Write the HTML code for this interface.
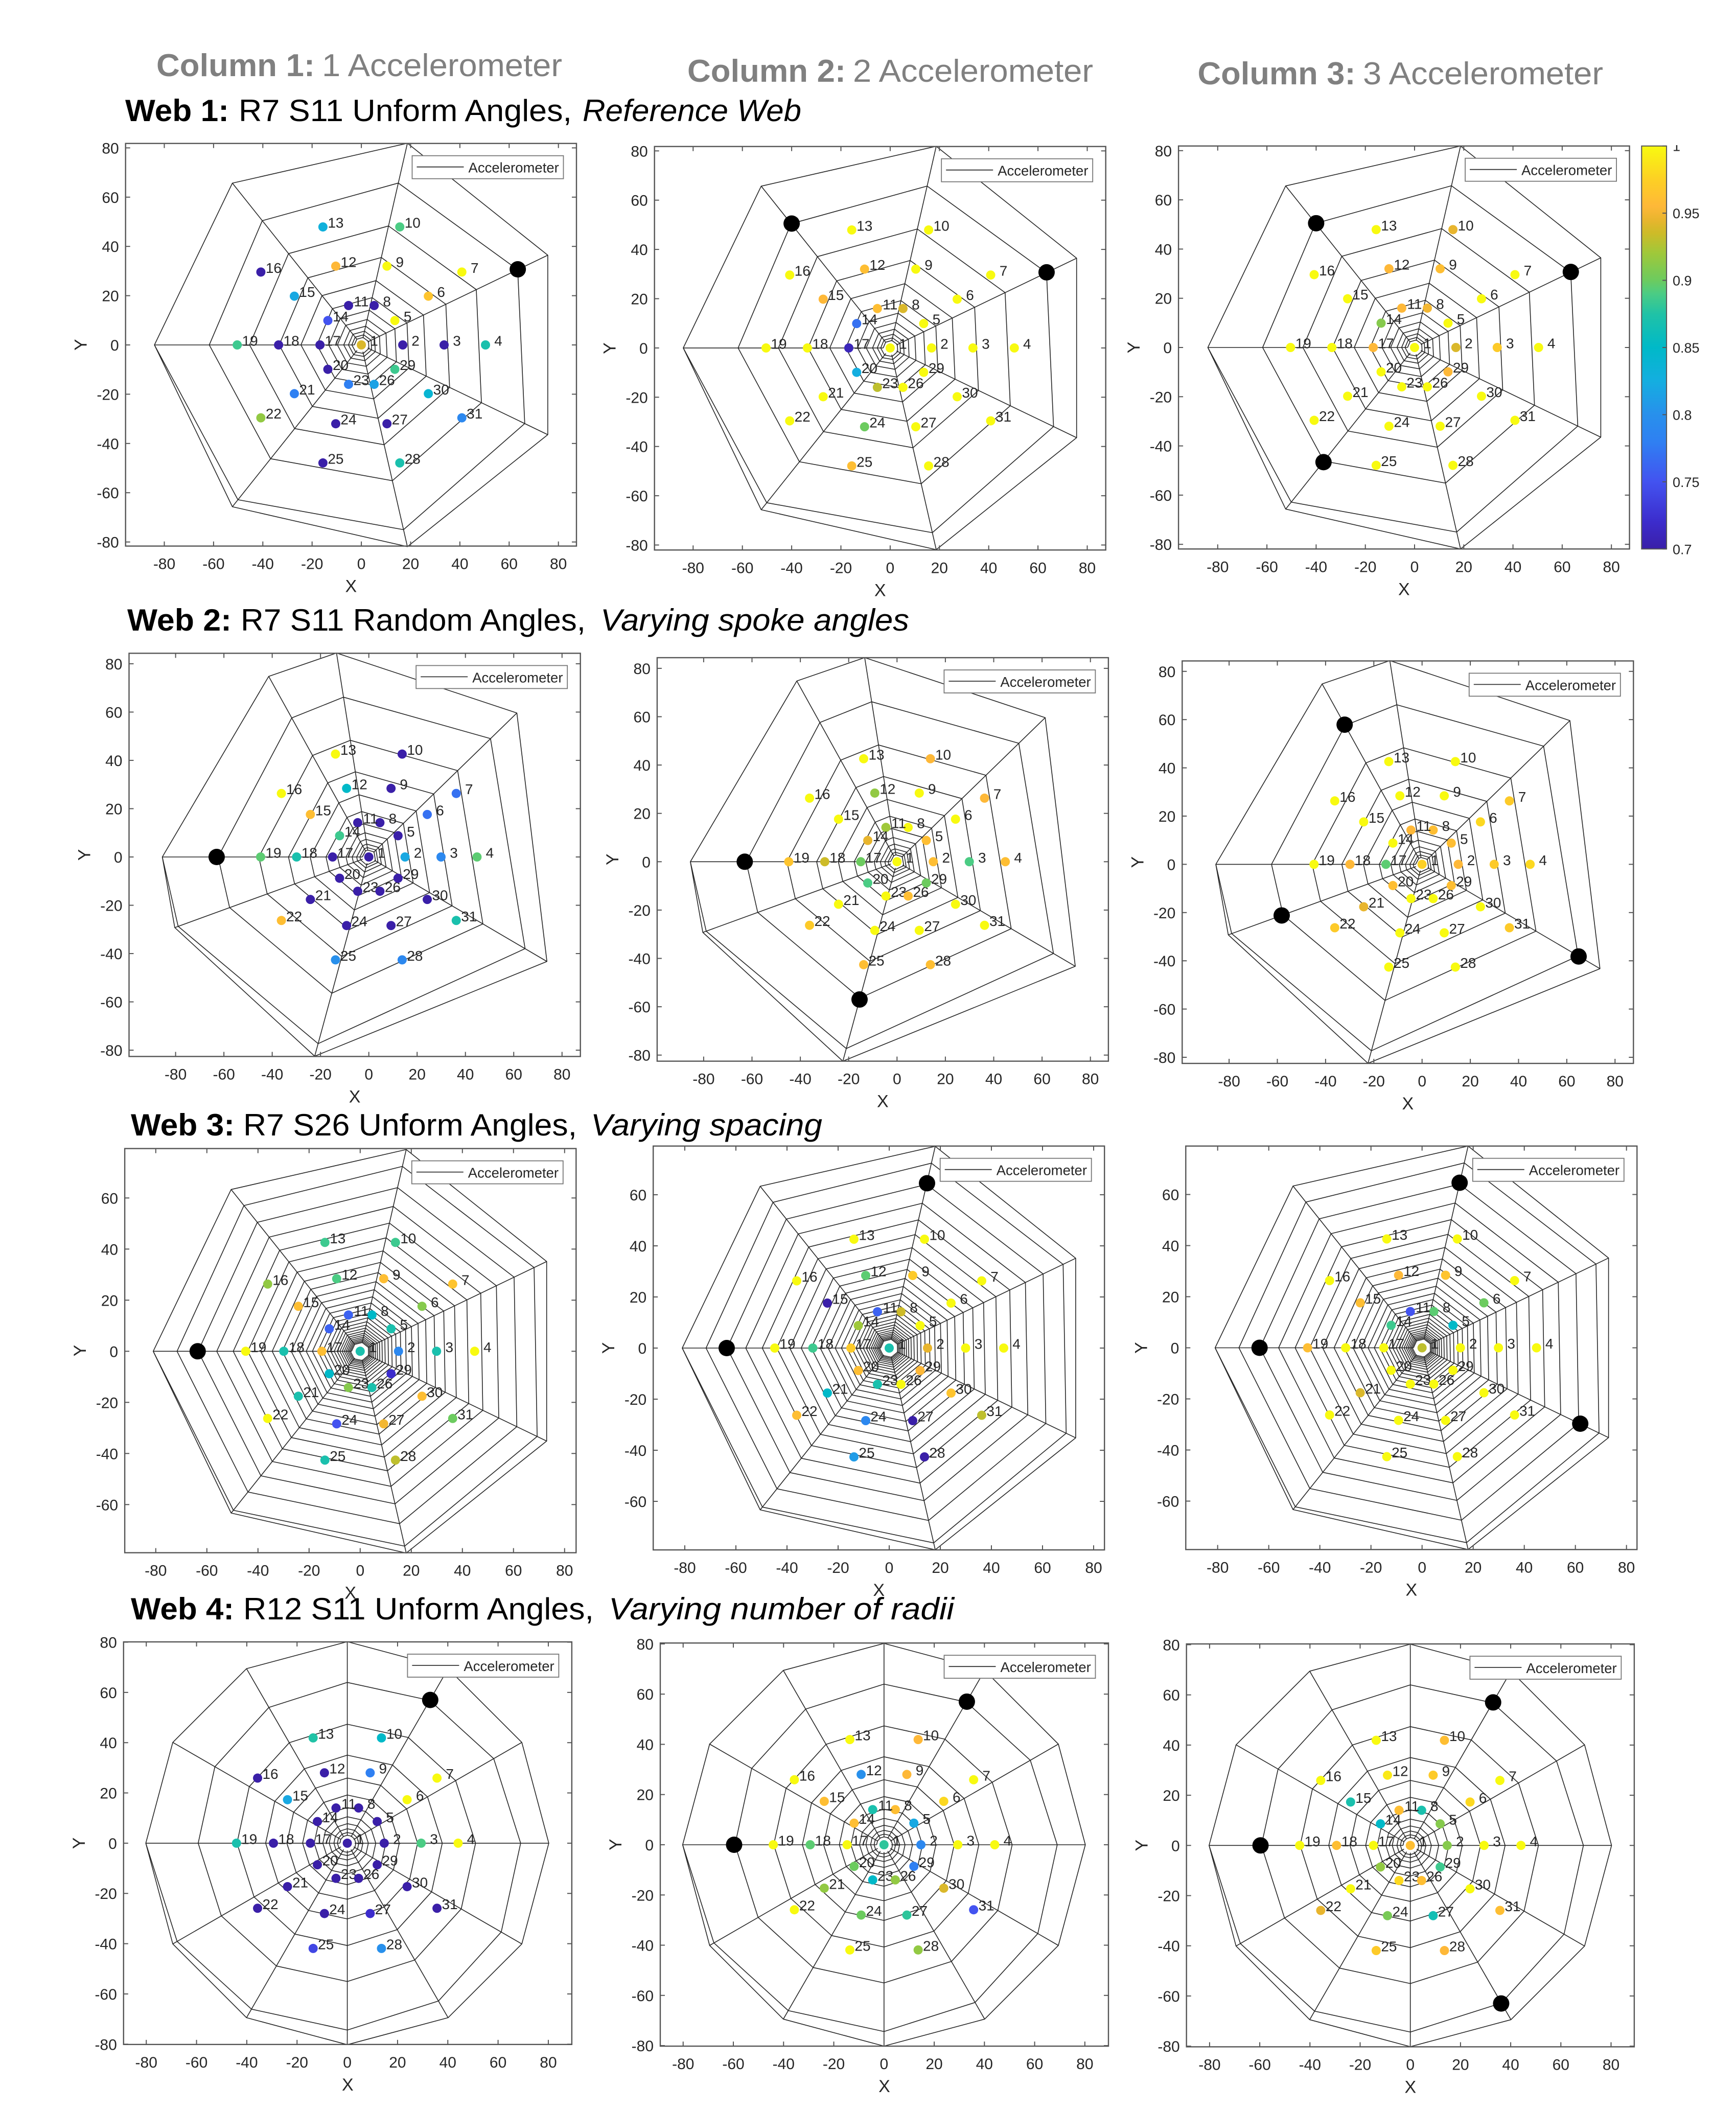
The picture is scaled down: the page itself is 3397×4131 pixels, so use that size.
<!DOCTYPE html>
<html lang="en">
<head>
<meta charset="utf-8">
<title>Spider web accelerometer study</title>
<style>
html,body{margin:0;padding:0;background:#fff;}
#page{display:block;width:3397px;height:4131px;}
text{font-family:"Liberation Sans",sans-serif;}
</style>
</head>
<body>
<svg id="page" xmlns="http://www.w3.org/2000/svg" width="3397" height="4131" viewBox="0 0 3397 4131">
<rect x="0" y="0" width="3397" height="4131" fill="#ffffff"/>
<defs>
<linearGradient id="cbar" x1="0" y1="1" x2="0" y2="0"></linearGradient>
<clipPath id="cbarTopClip"><rect x="3260" y="284" width="60" height="30"/></clipPath>
</defs>
<g id="plots"></g>
<g id="titles">
<g font-size="62" fill="#808080">
<text x="306" y="149" font-weight="700" textLength="310" lengthAdjust="spacingAndGlyphs">Column 1:</text>
<text x="630" y="149" textLength="470" lengthAdjust="spacingAndGlyphs">1 Accelerometer</text>
</g>
<g font-size="62" fill="#808080">
<text x="1345" y="160" font-weight="700" textLength="310" lengthAdjust="spacingAndGlyphs">Column 2:</text>
<text x="1669" y="160" textLength="470" lengthAdjust="spacingAndGlyphs">2 Accelerometer</text>
</g>
<g font-size="62" fill="#808080">
<text x="2343.5" y="165" font-weight="700" textLength="309" lengthAdjust="spacingAndGlyphs">Column 3:</text>
<text x="2667" y="165" textLength="470" lengthAdjust="spacingAndGlyphs">3 Accelerometer</text>
</g>
<g font-size="60" fill="#000">
<text x="245" y="237" font-weight="700" textLength="203" lengthAdjust="spacingAndGlyphs">Web 1:</text>
<text x="467" y="237" textLength="652" lengthAdjust="spacingAndGlyphs">R7 S11 Unform Angles,</text>
<text x="1140" y="237" font-style="italic" textLength="428" lengthAdjust="spacingAndGlyphs">Reference Web</text>
</g>
<g font-size="60" fill="#000">
<text x="249" y="1234" font-weight="700" textLength="204" lengthAdjust="spacingAndGlyphs">Web 2:</text>
<text x="471" y="1234" textLength="675" lengthAdjust="spacingAndGlyphs">R7 S11 Random Angles,</text>
<text x="1175" y="1234" font-style="italic" textLength="604" lengthAdjust="spacingAndGlyphs">Varying spoke angles</text>
</g>
<g font-size="60" fill="#000">
<text x="256" y="2222" font-weight="700" textLength="203" lengthAdjust="spacingAndGlyphs">Web 3:</text>
<text x="476" y="2222" textLength="653" lengthAdjust="spacingAndGlyphs">R7 S26 Unform Angles,</text>
<text x="1156" y="2222" font-style="italic" textLength="453" lengthAdjust="spacingAndGlyphs">Varying spacing</text>
</g>
<g font-size="60" fill="#000">
<text x="256" y="3169" font-weight="700" textLength="202" lengthAdjust="spacingAndGlyphs">Web 4:</text>
<text x="476" y="3169" textLength="686" lengthAdjust="spacingAndGlyphs">R12 S11 Unform Angles,</text>
<text x="1191" y="3169" font-style="italic" textLength="676" lengthAdjust="spacingAndGlyphs">Varying number of radii</text>
</g>
</g>
</svg>
<script>
// ---- tick labels
const xTickLabels = [-80,-60,-40,-20,0,20,40,60,80];
const yTickLabelsFull = [-80,-60,-40,-20,0,20,40,60,80];
const yTickLabelsShort = [-60,-40,-20,0,20,40,60];
const colorbarTickValues = [0.7,0.75,0.8,0.85,0.9,0.95,1];
const colorbarTickLabels = ['0.7','0.75','0.8','0.85','0.9','0.95','1'];

// ---- colormap
const cmapValues = [0.70,0.72,0.75,0.78,0.80,0.825,0.85,0.875,0.89,0.90,0.92,0.935,0.945,0.955,0.975,1];
const cmapColors = ['#3a1fa8','#3c2ccc','#4353f0','#2f80f2','#2890ec','#14aee0','#00b9c8','#20c2a6','#4bcc84','#6ccb5f','#9fc83a','#cdbb28','#e8b52e','#feb838','#fdd024','#f8fa10'];

// ---- web structure (spoke angles in degrees, spiral start radius, shrink per turn, turns)
const web1Angles = [180,231.43,282.86,334.29,385.71,437.14,488.57];
const web2Angles = [180,200,254.8,329.6,404.2,459,479];
const web3Angles = [180,231.43,282.86,334.29,385.71,437.14,488.57];
const web4Angles = [180,210,240,270,300,330,360,390,420,450,480,510];
const webRadius = [84,85.5,81,80.2];
const webShrink = [0.735,0.73,0.885,0.74];
const webTurns = [11,11,26,11];

// ---- sensor positions
const web1SensorX = [0,16.8,33.6,50.4,13.6,27.2,40.8,5.2,10.4,15.6,-5.2,-10.4,-15.6,-13.6,-27.2,-40.8,-16.8,-33.6,-50.4,-13.6,-27.2,-40.8,-5.2,-10.4,-15.6,5.2,10.4,15.6,13.6,27.2,40.8];
const web1SensorY = [0,0,0,0,9.9,19.8,29.6,16,32,47.9,16,32,47.9,9.9,19.8,29.6,0,0,0,-9.9,-19.8,-29.6,-16,-32,-47.9,-16,-32,-47.9,-9.9,-19.8,-29.6];
const web2SensorX = [0,15,29.9,44.8,12.1,24.2,36.2,4.6,9.2,13.8,-4.6,-9.2,-13.8,-12.1,-24.2,-36.2,-15,-29.9,-44.8,-12.1,-24.2,-36.2,-4.6,-9.2,-13.8,4.6,9.2,13.8,12.1,24.2,36.2];
const web2SensorY = [0,0,0,0,8.8,17.6,26.3,14.2,28.4,42.6,14.2,28.4,42.6,8.8,17.6,26.3,0,0,0,-8.8,-17.6,-26.3,-14.2,-28.4,-42.6,-14.2,-28.4,-42.6,-8.8,-17.6,-26.3];
const web3SensorX = [0,15,29.9,44.8,12.1,24.2,36.2,4.6,9.2,13.8,-4.6,-9.2,-13.8,-12.1,-24.2,-36.2,-15,-29.9,-44.8,-12.1,-24.2,-36.2,-4.6,-9.2,-13.8,4.6,9.2,13.8,12.1,24.2,36.2];
const web3SensorY = [0,0,0,0,8.8,17.6,26.3,14.2,28.4,42.6,14.2,28.4,42.6,8.8,17.6,26.3,0,0,0,-8.8,-17.6,-26.3,-14.2,-28.4,-42.6,-14.2,-28.4,-42.6,-8.8,-17.6,-26.3];
const web4SensorX = [0,14.7,29.4,44.1,11.9,23.8,35.7,4.5,9.1,13.6,-4.5,-9.1,-13.6,-11.9,-23.8,-35.7,-14.7,-29.4,-44.1,-11.9,-23.8,-35.7,-4.5,-9.1,-13.6,4.5,9.1,13.6,11.9,23.8,35.7];
const web4SensorY = [0,0,0,0,8.6,17.3,25.9,14,28,41.9,14,28,41.9,8.6,17.3,25.9,0,0,0,-8.6,-17.3,-25.9,-14,-28,-41.9,-14,-28,-41.9,-8.6,-17.3,-25.9];

// ---- sensor values, one array per panel
const valuesWeb1Col1 = [.94,.7,.7,.87,1,.965,1,.7,1,.89,.7,.955,.83,.75,.82,.7,.7,.7,.885,.7,.78,.915,.78,.7,.7,.815,.7,.87,.885,.84,.79];
const valuesWeb1Col2 = [1,1,1,1,1,1,1,.94,1,1,.96,.96,1,.77,.955,1,.71,1,1,.825,1,1,.93,.9,.96,1,1,1,1,1,1];
const valuesWeb1Col3 = [1,.94,.97,1,1,1,1,.95,.96,.945,.955,.955,1,.91,1,1,.955,1,1,1,1,1,1,1,1,1,1,1,.955,1,1];
const valuesWeb2Col1 = [.7,.82,.79,.895,.7,.77,.77,.7,.7,.7,.7,.85,1,.885,.96,1,.7,.87,.895,.7,.7,.96,.7,.7,.8,.7,.7,.79,.7,.7,.87];
const valuesWeb2Col2 = [1,.96,.89,.96,.96,1,.955,1,1,.955,.92,.915,1,.945,1,1,.9,.935,.965,.89,1,.97,1,1,.96,.96,1,.96,.9,1,1];
const valuesWeb2Col3 = [.975,.955,.97,.98,.96,.98,.97,.96,1,1,.955,1,1,1,1,1,.895,.955,1,.96,.945,.97,1,1,1,1,1,1,.96,1,.97];
const valuesWeb3Col1 = [.87,.79,.87,1,.87,.91,.965,.85,.96,.885,.76,.89,.885,.76,.96,.915,.96,.87,1,.85,.87,1,.91,.75,.87,.87,.95,.93,.72,.96,.9];
const valuesWeb3Col2 = [.87,.945,1,1,1,1,1,.935,.97,1,.76,.895,1,.92,.7,1,.97,.885,1,.96,.85,.96,.87,.79,.81,1,.7,.7,.955,.965,.93];
const valuesWeb3Col3 = [.93,1,1,1,.85,.9,1,.895,.965,1,.75,.955,1,.885,.96,1,1,1,.96,1,.94,1,1,1,1,1,1,1,1,1,1];
const valuesWeb4Col1 = [.7,.7,.89,1,.7,1,1,.7,.78,.85,.7,.7,.875,.7,.82,.7,.7,.7,.87,.7,.7,.7,.7,.7,.74,.7,.72,.8,.7,.7,.7];
const valuesWeb4Col2 = [.88,.79,1,1,.82,.98,1,.96,.955,.955,.87,.8,1,.96,.96,1,1,.895,1,.9,.915,1,.85,.9,1,.915,.88,.915,.78,.94,.75];
const valuesWeb4Col3 = [.96,.91,1,1,.91,.98,1,.87,.97,.96,.96,.99,1,.85,.87,1,1,.96,1,.915,1,.945,.98,.905,.97,.96,.865,.955,.885,1,.96];

// ---- accelerometer positions, per panel
const accelWeb1Col1X = [63.5];
const accelWeb1Col1Y = [30.7];
const accelWeb1Col2X = [-40,63.5];
const accelWeb1Col2Y = [50.5,30.7];
const accelWeb1Col3X = [-40,63.5,-37];
const accelWeb1Col3Y = [50.5,30.7,-46.6];
const accelWeb2Col1X = [-63];
const accelWeb2Col1Y = [0];
const accelWeb2Col2X = [-63,-15.5];
const accelWeb2Col2Y = [0,-57];
const accelWeb2Col3X = [-58.2,-32.1,64.9];
const accelWeb2Col3Y = [-21.2,57.9,-38.2];
const accelWeb3Col1X = [-63.6];
const accelWeb3Col1Y = [0];
const accelWeb3Col2X = [-63.6,14.8];
const accelWeb3Col2Y = [0,64.5];
const accelWeb3Col3X = [-63.6,14.7,61.9];
const accelWeb3Col3Y = [0,64.6,-29.7];
const accelWeb4Col1X = [33];
const accelWeb4Col1Y = [57];
const accelWeb4Col2X = [-59.7,33];
const accelWeb4Col2Y = [0,57];
const accelWeb4Col3X = [-59.7,33,36.2];
const accelWeb4Col3Y = [0,57,-63];

// ---- panel frames (axes box in page pixels, origin pixel, pixels per data unit)
const panels = [
 {w:0,l:245.7,t:280.7,r:1128,b:1068.6,cx:707.1,cy:675,k:4.82,val:valuesWeb1Col1,ax:accelWeb1Col1X,ay:accelWeb1Col1Y},
 {w:0,l:1280.7,t:286.7,r:2163.7,b:1076.3,cx:1741.9,cy:680.9,k:4.82,val:valuesWeb1Col2,ax:accelWeb1Col2X,ay:accelWeb1Col2Y},
 {w:0,l:2306.1,t:285.7,r:3188.6,b:1074.3,cx:2768,cy:680,k:4.815,val:valuesWeb1Col3,ax:accelWeb1Col3X,ay:accelWeb1Col3Y},
 {w:1,l:252.5,t:1278.4,r:1135.7,b:2067.4,cx:721.7,cy:1677,k:4.726,val:valuesWeb2Col1,ax:accelWeb2Col1X,ay:accelWeb2Col1Y},
 {w:1,l:1285.9,t:1287,r:2168.9,b:2076.6,cx:1755.3,cy:1686.3,k:4.73,val:valuesWeb2Col2,ax:accelWeb2Col2X,ay:accelWeb2Col2Y},
 {w:1,l:2313.3,t:1293.4,r:3196.3,b:2081,cx:2782.7,cy:1691.4,k:4.72,val:valuesWeb2Col3,ax:accelWeb2Col3X,ay:accelWeb2Col3Y},
 {w:2,l:244.1,t:2247.6,r:1127.3,b:3038.5,cx:704.8,cy:2644.3,k:5.0,val:valuesWeb3Col1,ax:accelWeb3Col1X,ay:accelWeb3Col1Y},
 {w:2,l:1278.2,t:2242.7,r:2161.2,b:3033,cx:1740,cy:2638,k:5.0,val:valuesWeb3Col2,ax:accelWeb3Col2X,ay:accelWeb3Col2Y},
 {w:2,l:2320.3,t:2242.7,r:3203.3,b:3032.3,cx:2782.7,cy:2637.5,k:5.0,val:valuesWeb3Col3,ax:accelWeb3Col3X,ay:accelWeb3Col3Y},
 {w:3,l:241.8,t:3213,r:1118.9,b:4000.8,cx:679.6,cy:3606.9,k:4.917,val:valuesWeb4Col1,ax:accelWeb4Col1X,ay:accelWeb4Col1Y},
 {w:3,l:1292,t:3215.2,r:2169,b:4004.1,cx:1729.8,cy:3610,k:4.913,val:valuesWeb4Col2,ax:accelWeb4Col2X,ay:accelWeb4Col2Y},
 {w:3,l:2321.7,t:3217,r:3197.9,b:4005.4,cx:2759.7,cy:3611.3,k:4.91,val:valuesWeb4Col3,ax:accelWeb4Col3X,ay:accelWeb4Col3Y}
];
const webAngleSets = [web1Angles,web2Angles,web3Angles,web4Angles];
const webSensorXSets = [web1SensorX,web2SensorX,web3SensorX,web4SensorX];
const webSensorYSets = [web1SensorY,web2SensorY,web3SensorY,web4SensorY];

const NS = 'http://www.w3.org/2000/svg';
const plotsRoot = document.getElementById('plots');
function mk(parent, tag, attrs, txt){
  const n = document.createElementNS(NS, tag);
  for (const a in attrs) n.setAttribute(a, attrs[a]);
  if (txt !== undefined) n.textContent = txt;
  parent.appendChild(n);
  return n;
}
function hexToRgb(h){ return [parseInt(h.slice(1,3),16),parseInt(h.slice(3,5),16),parseInt(h.slice(5,7),16)]; }
function colorFor(v){
  if (v <= cmapValues[0]) return cmapColors[0];
  for (let i = 1; i < cmapValues.length; i++){
    if (v <= cmapValues[i]){
      const t = (v - cmapValues[i-1]) / (cmapValues[i] - cmapValues[i-1]);
      const a = hexToRgb(cmapColors[i-1]), b = hexToRgb(cmapColors[i]);
      return 'rgb(' + a.map((c,j) => Math.round(c + (b[j]-c)*t)).join(',') + ')';
    }
  }
  return cmapColors[cmapColors.length-1];
}

const TEXT = '#262626', AXIS = '#555555', WEB = '#262626';

panels.forEach(function(p){
  const sx = v => p.cx + v * p.k;
  const sy = v => p.cy - v * p.k;
  const g = mk(plotsRoot, 'g', {});
  
  

  // white plot area
  const area = mk(g, 'rect', {x:p.l,y:p.t,width:p.r-p.l,height:p.b-p.t,fill:'#fff'});
  
  

  // web geometry
  const angles = webAngleSets[p.w];
  const R = webRadius[p.w], f = webShrink[p.w], turns = webTurns[p.w];
  const rad = d => d * Math.PI / 180;
  const hub = R * Math.pow(f, turns);
  const px = (r, a) => sx(r * Math.cos(rad(a))).toFixed(1);
  const py = (r, a) => sy(r * Math.sin(rad(a))).toFixed(1);

  // outer frame
  let d = '';
  angles.forEach(function(a, i){ d += (i ? 'L' : 'M') + px(R, a) + ' ' + py(R, a); });
  d += 'Z';
  const frame = mk(g, 'path', {d:d,fill:'none',stroke:WEB,'stroke-width':1.6,'stroke-linejoin':'round'});
  
  

  // spokes
  angles.forEach(function(a){
    const s = mk(g, 'line', {x1:px(hub,a),y1:py(hub,a),x2:px(R,a),y2:py(R,a),stroke:WEB,'stroke-width':1.6});
    
    
  });

  // capture spiral
  let sd = '';
  for (let turn = 0; turn < turns; turn++){
    angles.forEach(function(a){
      const delta = a - 180;
      const r = R * Math.pow(f, turn + delta / 360);
      sd += (sd ? 'L' : 'M') + px(r, a) + ' ' + py(r, a);
    });
  }
  sd += 'L' + px(hub, 540) + ' ' + py(hub, 540);
  const spiral = mk(g, 'path', {d:sd,fill:'none',stroke:WEB,'stroke-width':1.6,'stroke-linejoin':'round'});
  
  

  // axes box
  const box = mk(g, 'rect', {x:p.l,y:p.t,width:p.r-p.l,height:p.b-p.t,fill:'none',stroke:AXIS,'stroke-width':2.4});
  
  

  // x ticks
  xTickLabels.forEach(function(v){
    const x = sx(v);
    const t1 = mk(g, 'line', {x1:x,y1:p.b,x2:x,y2:p.b-9,stroke:AXIS,'stroke-width':2});
    
    
    const t2 = mk(g, 'line', {x1:x,y1:p.t,x2:x,y2:p.t+9,stroke:AXIS,'stroke-width':2});
    
    
    const lb = mk(g, 'text', {x:x,y:p.b+45,'text-anchor':'middle','font-size':30,fill:TEXT}, String(v));
    
    
  });

  // y ticks
  const yTicks = p.w === 2 ? yTickLabelsShort : yTickLabelsFull;
  yTicks.forEach(function(v){
    const y = sy(v);
    const t1 = mk(g, 'line', {x1:p.l,y1:y,x2:p.l+9,y2:y,stroke:AXIS,'stroke-width':2});
    
    
    const t2 = mk(g, 'line', {x1:p.r,y1:y,x2:p.r-9,y2:y,stroke:AXIS,'stroke-width':2});
    
    
    const lb = mk(g, 'text', {x:p.l-13,y:y+11,'text-anchor':'end','font-size':30,fill:TEXT}, String(v));
    
    
  });

  // axis titles
  const xt = mk(g, 'text', {x:(p.l+p.r)/2,y:p.b+90,'text-anchor':'middle','font-size':34,fill:TEXT}, 'X');
  
  
  const yMid = (p.t+p.b)/2, yX = p.l-76;
  const yt = mk(g, 'text', {x:yX,y:yMid,'text-anchor':'middle','font-size':34,fill:TEXT,transform:'rotate(-90 '+yX+' '+yMid+')'}, 'Y');
  
  

  // accelerometers
  p.ax.forEach(function(v, i){
    const c = mk(g, 'circle', {cx:sx(v),cy:sy(p.ay[i]),r:16,fill:'#000'});
    
    
  });

  // sensors
  const sensorX = webSensorXSets[p.w], sensorY = webSensorYSets[p.w];
  sensorX.forEach(function(v, i){
    const c = mk(g, 'circle', {cx:sx(v),cy:sy(sensorY[i]),r:9,fill:colorFor(p.val[i])});
    
    
    const lb = mk(g, 'text', {x:sx(v)+25,y:sy(sensorY[i])+1.5,'text-anchor':'middle','font-size':28,fill:TEXT}, String(i+1));
    
    
  });

  // legend
  const lg = mk(g, 'g', {});
  
  
  const lx = p.r - 25.5 - 296, ly = p.t + 24;
  const lr = mk(lg, 'rect', {x:lx,y:ly,width:296,height:45,fill:'#fff',stroke:'#777','stroke-width':1.8});
  
  
  const ll = mk(lg, 'line', {x1:lx+9,y1:ly+22,x2:lx+101,y2:ly+22,stroke:'#333','stroke-width':1.8});
  
  
  const lt = mk(lg, 'text', {x:lx+110,y:ly+33,'font-size':27.5,fill:TEXT}, 'Accelerometer');
  
  
});

// ---- colorbar
const grad = document.getElementById('cbar');
cmapValues.forEach(function(v, i){
  const s = document.createElementNS(NS, 'stop');
  s.setAttribute('offset', ((v - 0.7) / 0.3).toFixed(4));
  s.setAttribute('stop-color', cmapColors[i]);
  grad.appendChild(s);
});
const cbG = mk(plotsRoot, 'g', {});


const cbL = 3212.3, cbR = 3261.1, cbT = 285.7, cbB = 1074.3;
const cbScale = v => cbB - (v - 0.7) / 0.3 * (cbB - cbT);
const cbRect = mk(cbG, 'rect', {x:cbL,y:cbT,width:cbR-cbL,height:cbB-cbT,fill:'url(#cbar)',stroke:AXIS,'stroke-width':2});


colorbarTickValues.forEach(function(v, i){
  const y = cbScale(v);
  const t = mk(cbG, 'line', {x1:cbR-8,y1:y,x2:cbR,y2:y,stroke:AXIS,'stroke-width':2});
  
  
  const attrs = {x:3273,y:y+10,'font-size':27,fill:TEXT};
  if (v === 1) attrs['clip-path'] = 'url(#cbarTopClip)';
  const lb = mk(cbG, 'text', attrs, colorbarTickLabels[i]);
  
  
});
</script>
</body>
</html>
